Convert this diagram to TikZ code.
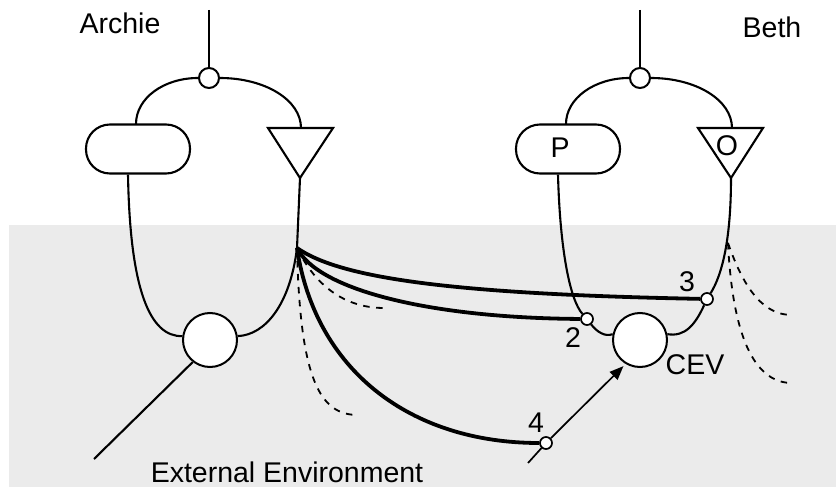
\documentclass[tikz,border=0pt]{standalone}
\usepackage{fontspec}
\setmainfont{Liberation Sans}
\usetikzlibrary{arrows.meta}
\definecolor{envgray}{HTML}{EBEBEB}
\begin{document}
\begin{tikzpicture}[x=1pt,y=-1pt,
  line/.style={line width=2.1pt, line join=miter},
  link/.style={line width=3.8pt},
  trail/.style={line width=1.8pt, dash pattern=on 6.5pt off 6.5pt},
  feed/.style={line width=1.7pt, -{Triangle[length=14pt,width=11pt]}},
  dot/.style={circle, draw, fill=white, line width=2pt, inner sep=0pt, minimum size=20pt},
  pin/.style={circle, draw, fill=white, line width=1.7pt, inner sep=0pt, minimum size=12pt},
  body/.style={circle, draw, fill=white, line width=2pt, inner sep=0pt, minimum size=54pt},
  pill/.style={draw, fill=white, line width=2.1pt, rounded corners=24pt,
    minimum width=104pt, minimum height=49pt, inner sep=0pt},
  lbl/.style={font=\fontsize{28.5}{34}\selectfont, inner sep=0pt},
]
\useasboundingbox (0,0) rectangle (836,487);
% environment region
\fill[envgray] (9,225) rectangle (836,487);

% ---- Archie ----
\node[dot] (tA) at (209,78) {};
\node[pill] (bA) at (138,149) {};
\coordinate (aApex) at (300,178);
\draw[line] (268,128) -- (333,128) -- (aApex) -- cycle;
\node[body] (aC) at (210,340) {};
\coordinate (aTop) at (209,10);
\coordinate (jA) at (297,248);
\coordinate (aEnv) at (94,459);
\draw[line] (aTop) -- (tA);
\draw[line] (tA.west) .. controls (164,78) and (136,98) .. (136,124);
\draw[line] (tA.east) .. controls (265,78) and (301,100) .. (301,128);
\draw[line] ([xshift=-10pt]bA.south) .. controls (130,290) and (150,337) .. (aC.172);
\draw[line] (aApex) -- (jA) .. controls (290,305) and (265,335) .. (aC.8);
\draw[line] (aC.232) -- (aEnv);

% ---- Beth ----
\node[dot] (tB) at (640,78) {};
\node[pill] (bB) at (568,149) {};
\coordinate (bApex) at (731,178);
\draw[line] (698,128) -- (763,128) -- (bApex) -- cycle;
\node[body] (cev) at (640,340) {};
\node[pin] (c2) at (587,319) {};
\node[pin] (c3) at (707,299) {};
\node[pin] (c4) at (546,443) {};
\coordinate (bTop) at (640,10);
\coordinate (jB) at (728,243);
\draw[line] (bTop) -- (tB);
\draw[line] (tB.west) .. controls (595,78) and (566,98) .. (566,124);
\draw[line] (tB.east) .. controls (696,78) and (732,100) .. (732,128);
\draw[line] ([xshift=-10pt]bB.south) .. controls (560,250) and (570,300) .. (c2);
\draw[line] (c2) .. controls (597,332) and (605,337) .. (cev.168);
\draw[line] (bApex) .. controls (731,240) and (722,275) .. (c3);
\draw[line] (c3) .. controls (695,325) and (685,337) .. (cev.12);

% ---- links from Archie's output ----
\draw[link] (jA) .. controls (340,278) and (450,294) .. (c3);
\draw[link] (jA) .. controls (318,290) and (430,318) .. (c2);
\draw[link] (jA) .. controls (315,370) and (410,443) .. (c4);

% ---- dashed trails ----
\coordinate (dA1) at (384,308);
\coordinate (dA2) at (358,415);
\coordinate (dB1) at (792,315);
\coordinate (dB2) at (792,383);
\draw[trail] (jA) .. controls (318,291) and (350,308) .. (dA1);
\draw[trail] (jA) .. controls (300,380) and (320,415) .. (dA2);
\draw[trail] (jB) .. controls (745,292) and (765,315) .. (dB1);
\draw[trail] (jB) .. controls (733,345) and (758,383) .. (dB2);

% ---- external input to CEV ----
\coordinate (inS) at (528,463);
\draw[line width=1.7pt] (inS) -- (c4);
\draw[feed, shorten >=3pt] (c4) -- (cev.239);

% ---- labels ----
\node[lbl] (nA) at (120,23) {Archie};
\node[lbl] (nB) at (772,27) {Beth};
\node[lbl] (nP) at (560,148) {P};
\node[lbl] (nO) at (727,146) {O};
\node[lbl] (n2) at (573,338) {2};
\node[lbl] (n3) at (687,282) {3};
\node[lbl] (n4) at (536,423) {4};
\node[lbl] (nCEV) at (695,365) {CEV};
\node[lbl] (nEnv) at (287,472) {External Environment};
\end{tikzpicture}
\end{document}
